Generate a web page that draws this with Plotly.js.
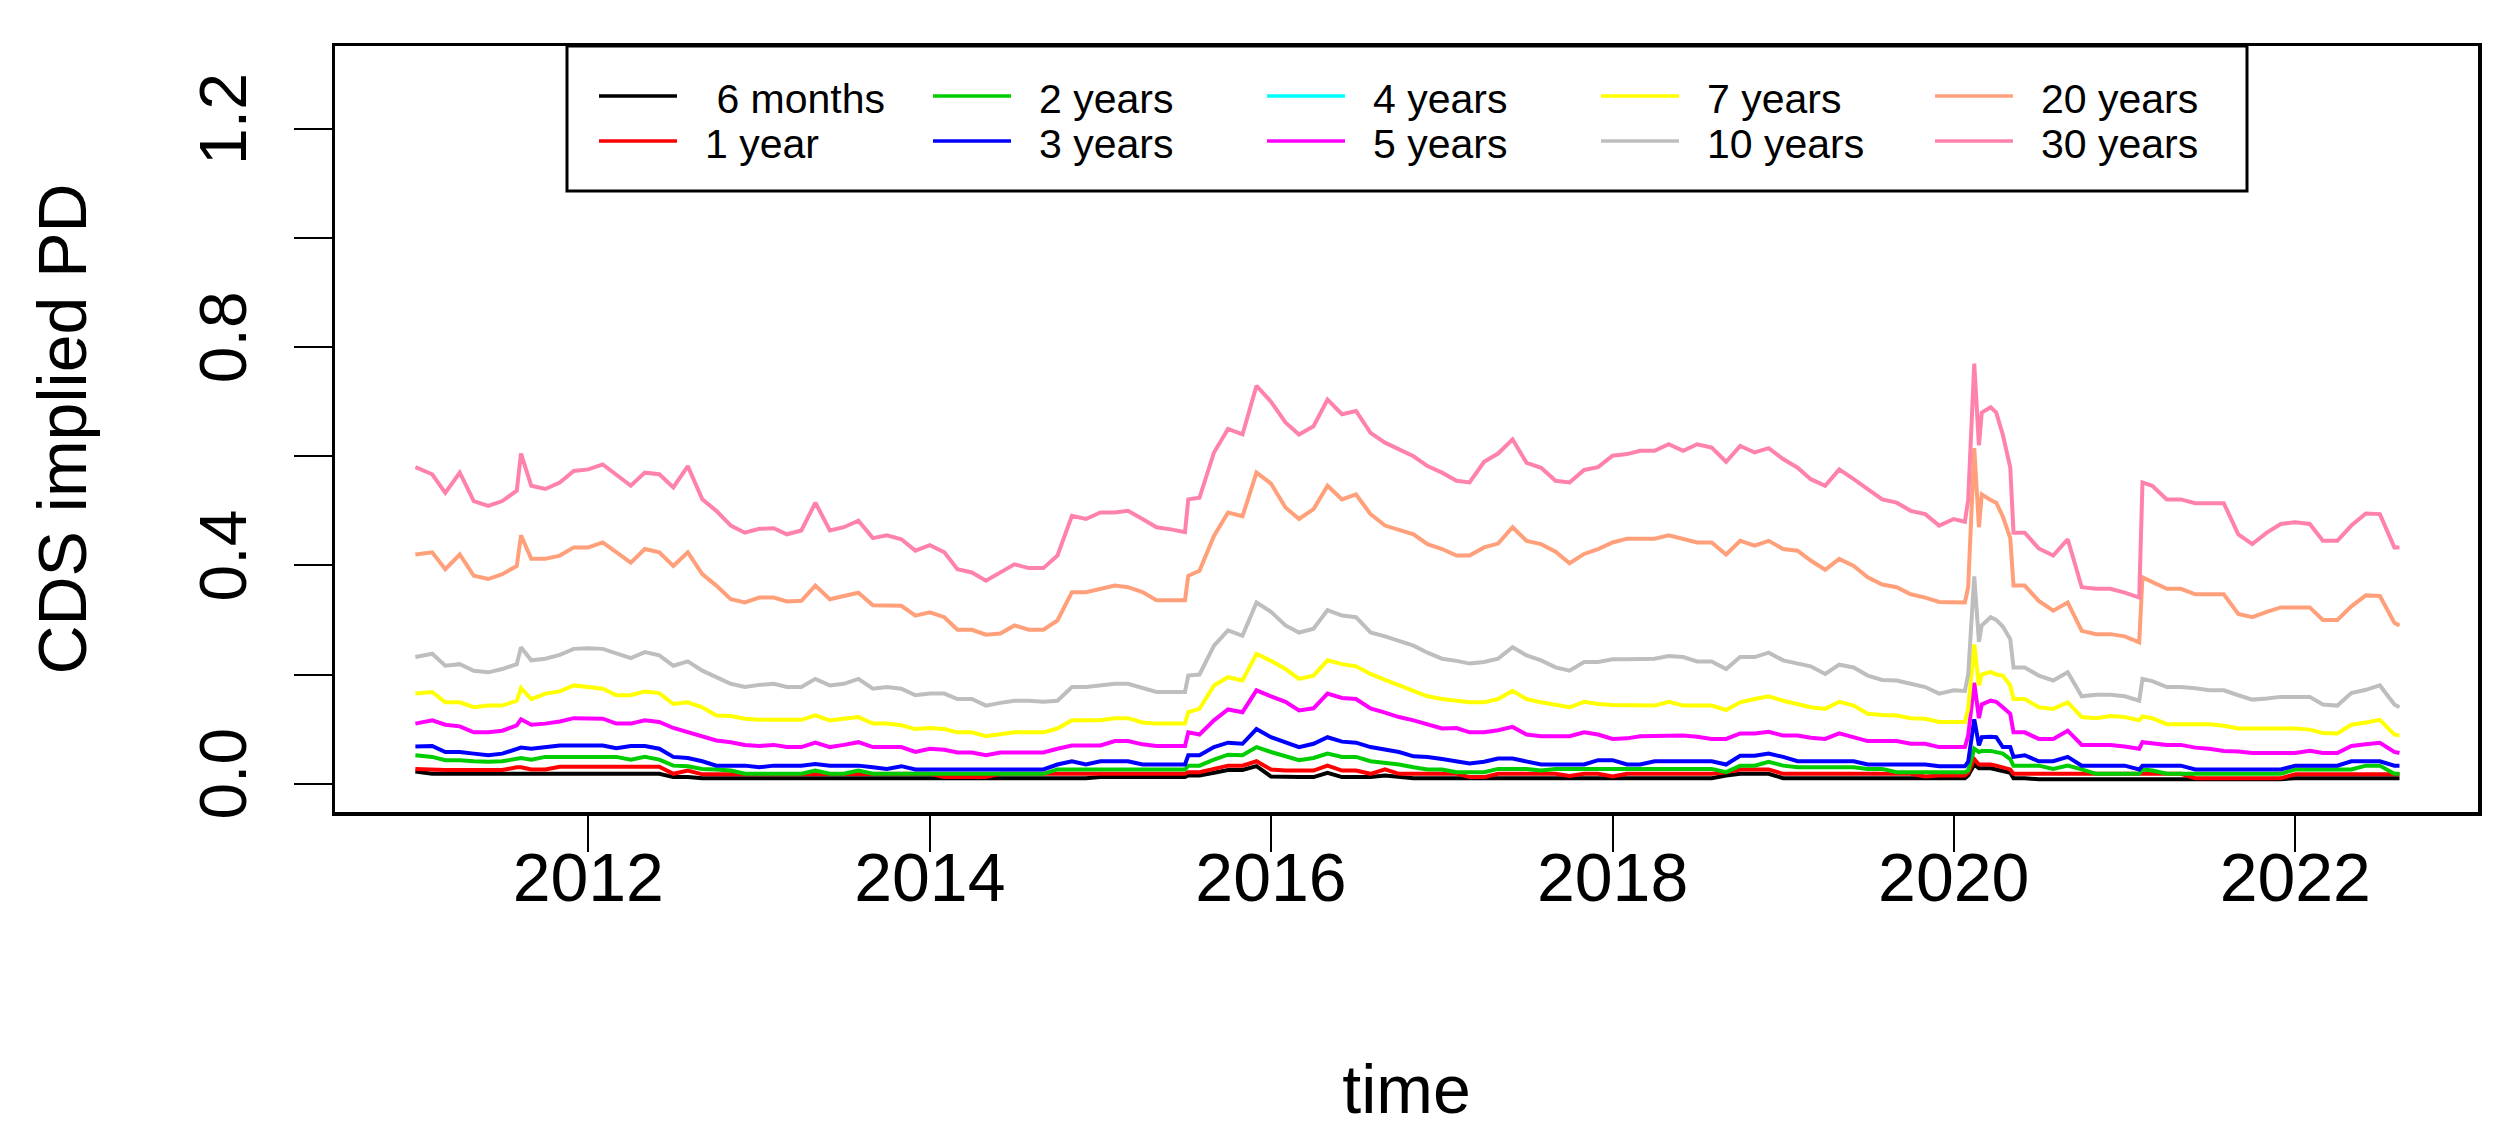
<!DOCTYPE html>
<html>
<head>
<meta charset="utf-8">
<script src="https://cdn.plot.ly/plotly-3.0.1.min.js"></script>
<style>html,body{margin:0;padding:0;background:#fff;}#chart{width:2516px;height:1139px;}</style>
</head>
<body>
<div id="chart"></div>
<script>
// ---------------- DATA ----------------
const dates = [
"2010-12-27","2011-02-01","2011-03-01","2011-04-01","2011-05-01","2011-06-01","2011-07-01","2011-08-01","2011-08-10","2011-09-01","2011-10-01","2011-11-01","2011-12-01",
"2012-01-01","2012-02-01","2012-03-01","2012-04-01","2012-05-01","2012-06-01","2012-07-01","2012-08-01","2012-09-01","2012-10-01","2012-11-01","2012-12-01",
"2013-01-01","2013-02-01","2013-03-01","2013-04-01","2013-05-01","2013-06-01","2013-07-01","2013-08-01","2013-09-01","2013-10-01","2013-11-01","2013-12-01",
"2014-01-01","2014-02-01","2014-03-01","2014-04-01","2014-05-01","2014-06-01","2014-07-01","2014-08-01","2014-09-01","2014-10-01","2014-11-01","2014-12-01",
"2015-01-01","2015-02-01","2015-03-01","2015-04-01","2015-05-01","2015-06-01","2015-07-01","2015-07-08","2015-08-01","2015-09-01","2015-10-01","2015-11-01","2015-12-01",
"2016-01-01","2016-02-01","2016-03-01","2016-04-01","2016-05-01","2016-06-01","2016-07-01","2016-08-01","2016-09-01","2016-10-01","2016-11-01","2016-12-01",
"2017-01-01","2017-02-01","2017-03-01","2017-04-01","2017-05-01","2017-06-01","2017-07-01","2017-08-01","2017-09-01","2017-10-01","2017-11-01","2017-12-01",
"2018-01-01","2018-02-01","2018-03-01","2018-04-01","2018-05-01","2018-06-01","2018-07-01","2018-08-01","2018-09-01","2018-10-01","2018-11-01","2018-12-01",
"2019-01-01","2019-02-01","2019-03-01","2019-04-01","2019-05-01","2019-06-01","2019-07-01","2019-08-01","2019-09-01","2019-10-01","2019-11-01","2019-12-01",
"2020-01-01","2020-01-25","2020-02-01","2020-02-14","2020-02-24","2020-03-01","2020-03-20","2020-04-01","2020-04-15","2020-05-01","2020-05-08","2020-06-01","2020-07-01","2020-08-01","2020-09-01","2020-10-01","2020-11-01","2020-12-01",
"2021-01-01","2021-02-01","2021-02-08","2021-03-01","2021-04-01","2021-05-01","2021-06-01","2021-07-01","2021-08-01","2021-09-01","2021-10-01","2021-11-01","2021-12-01",
"2022-01-01","2022-02-01","2022-03-01","2022-04-01","2022-05-01","2022-06-01","2022-07-01","2022-08-01","2022-08-12"
];

const sixMonths = [
0.022,0.018,0.018,0.018,0.018,0.018,0.018,0.018,0.018,0.018,0.018,0.018,0.018,
0.018,0.018,0.018,0.018,0.018,0.018,0.012,0.012,0.010,0.010,0.010,0.010,
0.010,0.010,0.010,0.010,0.010,0.010,0.010,0.010,0.010,0.010,0.010,0.010,
0.010,0.010,0.010,0.010,0.010,0.010,0.010,0.010,0.010,0.010,0.010,0.010,
0.012,0.012,0.012,0.012,0.012,0.012,0.012,0.015,0.015,0.020,0.025,0.025,0.032,
0.013,0.012,0.012,0.012,0.020,0.012,0.012,0.012,0.015,0.012,0.010,0.010,
0.010,0.010,0.010,0.010,0.010,0.010,0.010,0.010,0.010,0.010,0.010,0.010,
0.010,0.010,0.010,0.010,0.010,0.010,0.010,0.010,0.015,0.018,0.018,0.018,
0.010,0.010,0.010,0.010,0.010,0.010,0.010,0.010,0.010,0.010,0.010,0.010,
0.010,0.010,0.015,0.035,0.028,0.028,0.028,0.026,0.024,0.020,0.010,0.010,0.008,0.008,0.008,0.008,0.008,0.008,
0.008,0.008,0.008,0.008,0.008,0.008,0.008,0.008,0.008,0.008,0.008,0.008,0.008,
0.010,0.010,0.010,0.010,0.010,0.010,0.010,0.010,0.010
];
const oneYear = [
0.027,0.025,0.025,0.025,0.025,0.025,0.025,0.030,0.030,0.026,0.026,0.031,0.031,
0.031,0.031,0.031,0.031,0.031,0.031,0.018,0.024,0.017,0.017,0.017,0.017,
0.017,0.017,0.017,0.017,0.017,0.017,0.017,0.017,0.017,0.017,0.017,0.017,
0.018,0.012,0.012,0.012,0.012,0.018,0.018,0.018,0.018,0.018,0.018,0.018,
0.018,0.018,0.018,0.018,0.018,0.018,0.018,0.021,0.021,0.027,0.033,0.033,0.041,
0.026,0.024,0.024,0.024,0.033,0.024,0.024,0.018,0.026,0.018,0.018,0.018,
0.018,0.018,0.012,0.012,0.018,0.018,0.018,0.018,0.018,0.014,0.018,0.018,
0.013,0.018,0.018,0.018,0.018,0.018,0.018,0.018,0.021,0.026,0.026,0.026,
0.018,0.018,0.018,0.018,0.018,0.018,0.018,0.018,0.018,0.018,0.013,0.015,
0.015,0.015,0.020,0.045,0.035,0.035,0.035,0.033,0.030,0.026,0.018,0.018,0.018,0.018,0.018,0.018,0.018,0.018,
0.018,0.018,0.018,0.018,0.018,0.018,0.010,0.010,0.010,0.010,0.010,0.010,0.010,
0.017,0.017,0.017,0.017,0.017,0.017,0.017,0.017,0.017
];
const twoYears = [
0.052,0.049,0.043,0.043,0.041,0.040,0.041,0.047,0.047,0.044,0.049,0.049,0.049,
0.049,0.049,0.049,0.044,0.049,0.044,0.033,0.032,0.027,0.026,0.024,0.018,
0.018,0.018,0.018,0.018,0.024,0.018,0.018,0.024,0.018,0.018,0.018,0.018,
0.018,0.018,0.018,0.018,0.018,0.018,0.018,0.018,0.018,0.026,0.026,0.026,
0.026,0.026,0.026,0.026,0.026,0.026,0.026,0.033,0.033,0.044,0.053,0.052,0.067,
0.058,0.051,0.043,0.047,0.055,0.049,0.049,0.041,0.038,0.035,0.030,0.026,
0.026,0.021,0.021,0.021,0.027,0.027,0.027,0.024,0.027,0.027,0.027,0.027,
0.027,0.027,0.027,0.027,0.027,0.027,0.027,0.027,0.021,0.033,0.033,0.040,
0.033,0.030,0.030,0.030,0.030,0.030,0.027,0.027,0.021,0.021,0.021,0.021,
0.021,0.021,0.024,0.064,0.058,0.060,0.060,0.058,0.055,0.045,0.033,0.033,0.033,0.027,0.033,0.026,0.018,0.018,
0.018,0.018,0.026,0.024,0.018,0.018,0.018,0.018,0.018,0.018,0.018,0.018,0.018,
0.026,0.026,0.026,0.026,0.026,0.033,0.033,0.018,0.018
];
const threeYears = [
0.068,0.069,0.058,0.058,0.055,0.052,0.055,0.063,0.066,0.064,0.067,0.070,0.070,
0.070,0.070,0.065,0.069,0.069,0.064,0.049,0.047,0.041,0.033,0.033,0.033,
0.030,0.033,0.033,0.033,0.036,0.033,0.033,0.033,0.030,0.027,0.032,0.026,
0.026,0.026,0.026,0.026,0.026,0.026,0.026,0.026,0.026,0.035,0.041,0.035,
0.041,0.041,0.041,0.035,0.035,0.035,0.035,0.052,0.052,0.067,0.075,0.073,0.100,
0.085,0.076,0.067,0.073,0.085,0.077,0.075,0.067,0.062,0.058,0.050,0.049,
0.045,0.041,0.037,0.040,0.046,0.046,0.040,0.035,0.035,0.035,0.035,0.043,
0.043,0.035,0.035,0.041,0.041,0.041,0.041,0.041,0.035,0.051,0.051,0.055,
0.049,0.041,0.041,0.041,0.041,0.041,0.035,0.035,0.035,0.035,0.035,0.032,
0.032,0.032,0.040,0.118,0.070,0.085,0.086,0.085,0.067,0.067,0.049,0.052,0.041,0.041,0.049,0.033,0.033,0.033,
0.033,0.026,0.033,0.033,0.033,0.033,0.026,0.026,0.026,0.026,0.026,0.026,0.026,
0.033,0.033,0.033,0.033,0.041,0.041,0.041,0.033,0.033
];
const fourYears = []; // no 4-year curve is visible in the reference
const fiveYears = [
0.110,0.116,0.108,0.105,0.094,0.094,0.097,0.107,0.118,0.108,0.110,0.114,0.120,
0.119,0.119,0.110,0.110,0.116,0.113,0.102,0.094,0.087,0.079,0.076,0.071,
0.069,0.071,0.067,0.067,0.075,0.067,0.071,0.076,0.067,0.067,0.067,0.058,
0.064,0.062,0.057,0.057,0.052,0.057,0.057,0.057,0.057,0.064,0.070,0.070,
0.070,0.078,0.078,0.072,0.069,0.069,0.069,0.094,0.090,0.116,0.136,0.131,0.171,
0.160,0.150,0.134,0.138,0.165,0.157,0.155,0.138,0.130,0.122,0.116,0.108,
0.101,0.102,0.094,0.094,0.098,0.104,0.090,0.087,0.087,0.087,0.094,0.090,
0.082,0.083,0.087,0.087,0.088,0.088,0.086,0.082,0.082,0.092,0.092,0.095,
0.088,0.088,0.084,0.082,0.092,0.085,0.078,0.078,0.078,0.073,0.073,0.067,
0.067,0.067,0.088,0.185,0.120,0.145,0.152,0.150,0.140,0.128,0.094,0.094,0.082,0.082,0.097,0.071,0.071,0.071,
0.068,0.064,0.076,0.074,0.071,0.071,0.066,0.064,0.060,0.059,0.056,0.056,0.056,
0.056,0.060,0.056,0.056,0.069,0.072,0.075,0.058,0.056
];
const sevenYears = [
0.165,0.168,0.149,0.149,0.140,0.143,0.143,0.152,0.175,0.155,0.165,0.169,0.180,
0.177,0.174,0.162,0.162,0.169,0.166,0.146,0.149,0.140,0.125,0.124,0.119,
0.117,0.117,0.117,0.117,0.125,0.116,0.119,0.122,0.110,0.110,0.107,0.100,
0.102,0.100,0.094,0.094,0.087,0.090,0.094,0.094,0.094,0.101,0.116,0.116,
0.116,0.120,0.120,0.112,0.110,0.110,0.110,0.131,0.137,0.180,0.195,0.189,0.238,
0.225,0.210,0.192,0.198,0.226,0.219,0.215,0.201,0.190,0.180,0.171,0.160,
0.155,0.152,0.149,0.149,0.155,0.170,0.155,0.149,0.145,0.140,0.150,0.146,
0.144,0.144,0.143,0.143,0.150,0.143,0.143,0.143,0.135,0.149,0.155,0.160,
0.152,0.145,0.140,0.137,0.150,0.143,0.128,0.126,0.125,0.120,0.119,0.113,
0.113,0.113,0.137,0.255,0.180,0.200,0.205,0.200,0.198,0.180,0.155,0.155,0.140,0.137,0.149,0.122,0.120,0.124,
0.122,0.116,0.123,0.120,0.109,0.109,0.109,0.109,0.106,0.101,0.101,0.101,0.101,
0.101,0.099,0.093,0.092,0.108,0.112,0.117,0.090,0.088
];
const tenYears = [
0.232,0.238,0.216,0.219,0.207,0.204,0.210,0.219,0.250,0.226,0.229,0.236,0.247,
0.248,0.247,0.238,0.230,0.241,0.235,0.216,0.224,0.207,0.195,0.183,0.177,
0.181,0.183,0.177,0.177,0.192,0.180,0.183,0.192,0.174,0.177,0.174,0.162,
0.165,0.165,0.155,0.155,0.143,0.148,0.152,0.152,0.150,0.152,0.177,0.177,
0.180,0.183,0.183,0.175,0.168,0.168,0.168,0.198,0.200,0.253,0.281,0.271,0.332,
0.315,0.290,0.277,0.284,0.318,0.308,0.305,0.277,0.270,0.262,0.253,0.240,
0.229,0.225,0.220,0.223,0.229,0.250,0.235,0.226,0.213,0.207,0.223,0.223,
0.228,0.228,0.229,0.229,0.234,0.232,0.224,0.224,0.210,0.232,0.232,0.240,
0.226,0.220,0.215,0.201,0.218,0.213,0.198,0.190,0.189,0.183,0.177,0.165,
0.171,0.170,0.200,0.380,0.260,0.290,0.305,0.300,0.288,0.265,0.213,0.213,0.198,0.189,0.204,0.160,0.163,0.163,
0.160,0.152,0.192,0.188,0.177,0.177,0.175,0.171,0.171,0.162,0.154,0.156,0.159,
0.159,0.159,0.145,0.143,0.166,0.172,0.180,0.145,0.140
];
const twentyYears = [
0.420,0.424,0.393,0.420,0.381,0.375,0.384,0.399,0.455,0.412,0.412,0.418,0.433,
0.433,0.442,0.424,0.405,0.430,0.424,0.399,0.424,0.384,0.363,0.338,0.332,
0.341,0.341,0.334,0.335,0.363,0.338,0.344,0.350,0.327,0.326,0.326,0.308,
0.314,0.305,0.282,0.282,0.273,0.275,0.290,0.282,0.282,0.299,0.351,0.351,
0.357,0.363,0.360,0.351,0.336,0.336,0.336,0.381,0.390,0.454,0.497,0.490,0.570,
0.550,0.506,0.485,0.503,0.546,0.521,0.530,0.494,0.473,0.466,0.457,0.439,
0.430,0.418,0.418,0.433,0.440,0.470,0.445,0.439,0.425,0.404,0.421,0.430,
0.442,0.449,0.449,0.449,0.455,0.448,0.442,0.442,0.420,0.445,0.436,0.445,
0.430,0.427,0.409,0.392,0.412,0.399,0.378,0.365,0.360,0.347,0.341,0.333,
0.332,0.332,0.360,0.615,0.470,0.530,0.520,0.515,0.490,0.450,0.363,0.363,0.335,0.317,0.332,0.280,0.274,0.274,
0.270,0.259,0.378,0.370,0.357,0.357,0.347,0.347,0.347,0.311,0.305,0.315,0.323,
0.323,0.323,0.300,0.300,0.325,0.345,0.344,0.295,0.290
];
const thirtyYears = [
0.580,0.567,0.533,0.570,0.518,0.509,0.518,0.537,0.605,0.546,0.540,0.552,0.573,
0.576,0.585,0.567,0.546,0.570,0.567,0.543,0.582,0.521,0.500,0.473,0.460,
0.467,0.468,0.457,0.464,0.515,0.464,0.470,0.482,0.450,0.455,0.448,0.427,
0.437,0.424,0.393,0.387,0.372,0.387,0.402,0.395,0.395,0.418,0.491,0.485,
0.497,0.497,0.500,0.485,0.470,0.466,0.461,0.521,0.524,0.607,0.650,0.640,0.729,
0.700,0.662,0.640,0.655,0.704,0.677,0.683,0.643,0.625,0.613,0.600,0.582,
0.570,0.555,0.552,0.590,0.605,0.631,0.588,0.579,0.555,0.552,0.575,0.580,
0.601,0.604,0.610,0.610,0.622,0.610,0.622,0.616,0.590,0.619,0.607,0.615,
0.595,0.579,0.558,0.546,0.576,0.558,0.540,0.521,0.515,0.500,0.494,0.473,
0.485,0.480,0.520,0.770,0.620,0.680,0.690,0.680,0.640,0.580,0.460,0.460,0.431,0.418,0.448,0.360,0.357,0.357,
0.350,0.341,0.552,0.546,0.521,0.521,0.514,0.514,0.514,0.457,0.439,0.460,0.476,
0.479,0.476,0.445,0.445,0.473,0.495,0.494,0.433,0.433
];

const seriesNames  = ["6 months","1 year","2 years","3 years","4 years","5 years","7 years","10 years","20 years","30 years"];
const seriesColors = ["#000000","#FF0000","#00CD00","#0000FF","#00FFFF","#FF00FF","#FFFF00","#BEBEBE","#FFA07A","#FF82AB"];
const seriesValues = [sixMonths, oneYear, twoYears, threeYears, fourYears, fiveYears, sevenYears, tenYears, twentyYears, thirtyYears];

const yTickValues = [0, 0.2, 0.4, 0.6, 0.8, 1.0, 1.2];
const yTickLabels = ["0.0", "", "0.4", "", "0.8", "", "1.2"];

// ---------------- LAYOUT ----------------
const W = 2516, H = 1139;
const M = {l: 335, r: 38, t: 46, b: 327};
const PW = W - M.l - M.r, PH = H - M.t - M.b;
const px = x => (x - M.l) / PW;          // pixel -> paper x
const py = y => (H - M.b - y) / PH;      // pixel -> paper y
const FONT = "Liberation Sans, Arial, Helvetica, sans-serif";

const traces = seriesValues.map((vals, i) => ({
  type: "scatter",
  mode: "lines",
  name: seriesNames[i],
  x: vals.length ? dates : [],
  y: vals,
  line: {color: seriesColors[i], width: 4},
  showlegend: false,
  hoverinfo: "skip"
}));

// legend (R style: 2 rows x 5 columns, filled column by column)
const shapes = [{
  type: "rect", xref: "paper", yref: "paper",
  x0: px(567), x1: px(2247), y0: py(46), y1: py(191),
  line: {color: "#000", width: 3}, fillcolor: "rgba(255,255,255,1)", layer: "above"
}];
const annotations = [];
seriesNames.forEach((name, i) => {
  const col = Math.floor(i / 2), row = i % 2;
  const lx = 599 + 334 * col;
  const ly = row === 0 ? 96 : 141;
  shapes.push({
    type: "line", xref: "paper", yref: "paper",
    x0: px(lx), x1: px(lx + 78), y0: py(ly), y1: py(ly),
    line: {color: seriesColors[i], width: 3.5}, layer: "above"
  });
  annotations.push({
    xref: "paper", yref: "paper", x: px(lx + 105), y: py(ly + 3),
    xanchor: "left", yanchor: "middle", showarrow: false, borderpad: 0,
    text: (i === 0 ? "\u00a0" : "") + name,
    font: {family: FONT, size: 41, color: "#000"}
  });
});

const layout = {
  width: W, height: H,
  margin: M,
  paper_bgcolor: "#fff", plot_bgcolor: "#fff",
  showlegend: false,
  hovermode: false,
  font: {family: FONT, color: "#000"},
  xaxis: {
    type: "date",
    range: ["2010-07-08", "2023-01-27"],
    tick0: "2012-01-01", dtick: "M24", tickformat: "%Y",
    ticks: "outside", ticklen: 36, tickwidth: 2, tickcolor: "#000",
    showline: true, mirror: true, linecolor: "#000", linewidth: 3.5,
    showgrid: false, zeroline: false,
    tickfont: {family: FONT, size: 68, color: "#000"},
    ticklabelstandoff: -32,
    title: {text: "time", font: {family: FONT, size: 68, color: "#000"}, standoff: 152}
  },
  yaxis: {
    range: [-0.052, 1.352],
    tickmode: "array", tickvals: yTickValues, ticktext: yTickLabels,
    tickangle: -90,
    ticks: "outside", ticklen: 38, tickwidth: 2, tickcolor: "#000",
    showline: true, mirror: true, linecolor: "#000", linewidth: 3.5,
    showgrid: false, zeroline: false,
    tickfont: {family: FONT, size: 66, color: "#000"},
    ticklabelstandoff: 21,
    title: {text: "CDS implied PD", font: {family: FONT, size: 68, color: "#000"}, standoff: 78}
  },
  shapes: shapes,
  annotations: annotations
};

Plotly.newPlot("chart", traces, layout, {displayModeBar: false, staticPlot: true});
</script>
</body>
</html>
